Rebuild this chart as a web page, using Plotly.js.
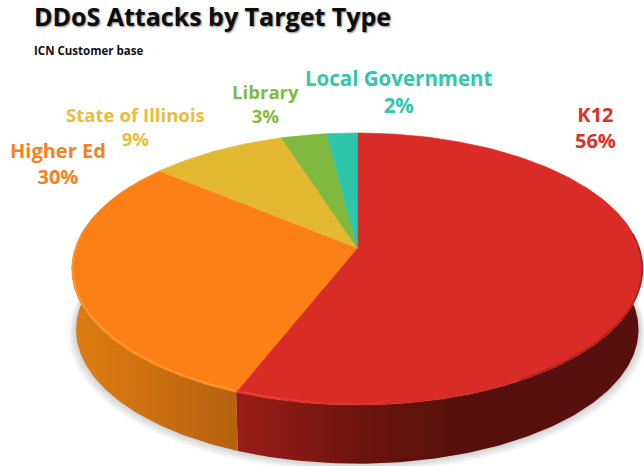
<!DOCTYPE html>
<html>
<head>
<meta charset="utf-8">
<script src="https://cdn.plot.ly/plotly-3.0.1.min.js"></script>
<style>html,body{margin:0;padding:0;background:#fff}#chart{width:644px;height:466px}</style>
</head>
<body>
<div id="chart"></div>
<script>
// Attack share per customer segment, clockwise from twelve o'clock
const categories = ['K12', 'Higher Ed', 'State of Illinois', 'Library', 'Local Government'];
const shares = [56, 30, 9, 3, 2];
const topColors = ['#da2c26', '#fd8017', '#e3b932', '#7fb93f', '#2dc6aa'];
const labelColors = ['#dc3029', '#fb7f1f', '#e8bd3c', '#7fba42', '#30c7ab'];
const labelX = [595, 57.5, 135, 265, 399];
const labelY = [127.5, 163.5, 126.5, 103.5, 91];
const labelSizes = [20, 20, 18.6, 18.6, 20.5];

// Side wall shading for the two slices that face the viewer
const wallStops = {
  0: {start: 232, stop: 460, scale: [[0, '#9c1d18'], [0.6, '#6a130f'], [1, '#57100d']]},
  1: {start: 76, stop: 232, scale: [[0, '#de7c12'], [1, '#b7620f']]}
};

// Perspective disc: u to the right, v towards the viewer
const tilt = 0.1544, spreadX = 282.1, spreadY = 132.8, centerX = 357.3, centerY = 248;
const depth = 61, lowerScale = 0.985;

function project(deg, drop, scale) {
  const a = deg * Math.PI / 180, u = Math.sin(a), v = -Math.cos(a), w = 1 - tilt * v;
  return [centerX + scale * spreadX * u / w, centerY + drop + scale * spreadY * v / w];
}
function arc(from, to, drop, scale) {
  const pts = [], n = Math.max(2, Math.ceil(Math.abs(to - from)));
  for (let i = 0; i <= n; i++) pts.push(project(from + (to - from) * i / n, drop, scale));
  return pts;
}
function area(pts, color, extra) {
  return Object.assign({
    type: 'scatter', mode: 'lines', fill: 'toself', fillcolor: color,
    x: pts.map(p => p[0]), y: pts.map(p => p[1]),
    line: {width: 0.6, color: color}, hoverinfo: 'skip', showlegend: false
  }, extra || {});
}
function stroke(pts, color, width, opacity) {
  return {type: 'scatter', mode: 'lines', x: pts.map(p => p[0]), y: pts.map(p => p[1]),
    line: {width: width, color: color}, opacity: opacity, hoverinfo: 'skip', showlegend: false};
}

const total = shares.reduce((a, b) => a + b, 0);
const bounds = [0];
shares.forEach((s, i) => bounds.push(bounds[i] + s / total * 360));

const traces = [];

// Soft drop shadow under the disc
for (let i = 6; i >= 1; i--) {
  traces.push(area(arc(0, 360, depth + i * 0.7, lowerScale + i * 0.0045), 'rgba(0,0,0,0.028)', {line: {width: 0}}));
}

// Side walls
[[60, bounds[1], 0], [bounds[1], 300, 1]].forEach(([from, to, idx]) => {
  const pts = arc(from, to, 0, 1).concat(arc(to, from, depth, lowerScale));
  pts.push(pts[0]);
  const w = wallStops[idx];
  traces.push(area(pts, w.scale[w.scale.length - 1][1], {
    fillgradient: {type: 'horizontal', colorscale: w.scale, start: w.start, stop: w.stop},
    line: {width: 0}
  }));
});

// Top face slices
shares.forEach((s, i) => {
  const pts = [[centerX, centerY]].concat(arc(bounds[i], bounds[i + 1], 0, 1));
  pts.push([centerX, centerY]);
  traces.push(area(pts, topColors[i]));
});

// Rim highlights and the soft dark edge on the right
traces.push(stroke(arc(bounds[1], 276, -1, 0.997), '#ffa032', 1.5, 0.8));
[[0, 8, 0.9], [8, 16, 0.6], [16, 26, 0.3]].forEach(([a, b, o]) => {
  traces.push(stroke(arc(bounds[1] - a, bounds[1] - b, -1, 0.997), '#f4413a', 1.5, o));
});
traces.push(stroke(arc(84, 150, -0.5, 0.998), '#7a1512', 1.6, 0.5));

// Outer labels built from the same categories and shares
const annotations = categories.map((c, i) => ({
  x: labelX[i], y: labelY[i], xref: 'x', yref: 'y', showarrow: false,
  xanchor: 'center', yanchor: 'middle', align: 'center',
  text: c + '<br>' + shares[i] + '%',
  font: {family: '"Open Sans", sans-serif', size: labelSizes[i], color: labelColors[i], weight: 700}
}));
annotations.push({
  x: 32, y: 50, xref: 'x', yref: 'y', showarrow: false, xanchor: 'left', yanchor: 'middle',
  text: 'ICN Customer base',
  font: {family: '"Open Sans", sans-serif', size: 11.5, color: '#111', weight: 700}
});

const layout = {
  width: 644, height: 466,
  margin: {l: 0, r: 0, t: 0, b: 0},
  paper_bgcolor: '#fff', plot_bgcolor: '#fff',
  title: {
    text: 'DDoS Attacks by Target Type',
    x: 34 / 644, xanchor: 'left', xref: 'paper',
    y: 1 - 17 / 466, yanchor: 'middle', yref: 'paper',
    font: {family: '"Open Sans", sans-serif', size: 25, color: '#0c0c0c', weight: 700,
           shadow: '1px 1px 2px rgba(0,0,0,0.5)'}
  },
  xaxis: {range: [0, 644], visible: false, fixedrange: true},
  yaxis: {range: [466, 0], visible: false, fixedrange: true},
  annotations: annotations,
  showlegend: false
};

Plotly.newPlot('chart', traces, layout, {displayModeBar: false, staticPlot: true});
</script>
</body>
</html>
